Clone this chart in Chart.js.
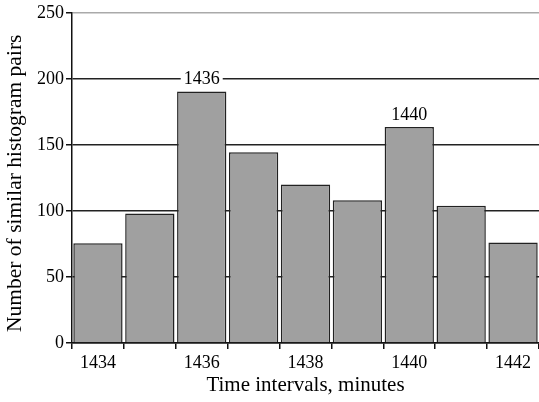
<!DOCTYPE html>
<html>
<head>
<meta charset="utf-8">
<script src="https://cdn.jsdelivr.net/npm/chart.js@4"></script>
<style>
  html, body { margin: 0; padding: 0; background: #fff; }
  #wrap { width: 539px; height: 402px; position: relative; }
</style>
</head>
<body>
<div id="wrap"><canvas id="histChart"></canvas></div>
<script>
// data
const intervals = ['1434', '1435', '1436', '1437', '1438', '1439', '1440', '1441', '1442'];
const pairCounts = [75.5, 98, 190.5, 144.5, 120, 108, 163.5, 104, 76];
const shownTicks = ['1434', '1436', '1438', '1440', '1442'];
const peakLabels = ['1436', '1440'];
const yTicks = [0, 50, 100, 150, 200, 250];

const serif = '"Liberation Serif", "DejaVu Serif", serif';

// writes the peak names above their bars, on a white patch over the grid line
const peakLabelPlugin = {
    id: 'peakLabels',
    afterDatasetsDraw(chart) {
        const ctx = chart.ctx;
        const meta = chart.getDatasetMeta(0);
        ctx.save();
        ctx.font = '18px ' + serif;
        ctx.textAlign = 'center';
        ctx.textBaseline = 'middle';
        peakLabels.forEach(lbl => {
            const i = intervals.indexOf(lbl);
            const bar = meta.data[i];
            const y = bar.y - 13;
            const w = ctx.measureText(lbl).width;
            ctx.fillStyle = '#fff';
            ctx.fillRect(bar.x - w / 2 - 3, y - 8, w + 6, 16);
            ctx.fillStyle = '#000';
            ctx.fillText(lbl, bar.x, y + 1);
        });
        ctx.restore();
    }
};

const ctx = document.getElementById('histChart').getContext('2d');
new Chart(ctx, {
    type: 'bar',
    data: {
        labels: intervals,
        datasets: [{
            data: pairCounts,
            backgroundColor: '#a0a0a0',
            borderColor: '#222',
            borderWidth: 1.5,
            barPercentage: 0.95,
            categoryPercentage: 1.0
        }]
    },
    options: {
        responsive: true,
        maintainAspectRatio: false,
        animation: false,
        layout: { padding: { top: 12, right: 0, left: 0, bottom: 0 } },
        plugins: {
            legend: { display: false },
            tooltip: { enabled: false }
        },
        scales: {
            x: {
                offset: true,
                grid: {
                    offset: true,
                    drawOnChartArea: false,
                    drawTicks: true,
                    tickLength: 6,
                    color: '#111',
                    lineWidth: 1.5
                },
                border: { display: true, color: '#111', width: 1.5 },
                ticks: {
                    autoSkip: false,
                    maxRotation: 0,
                    color: '#000',
                    padding: 3,
                    font: { family: serif, size: 18 },
                    callback: function (value) {
                        const lbl = this.getLabelForValue(value);
                        return shownTicks.includes(lbl) ? lbl : '';
                    }
                },
                title: {
                    display: true,
                    text: 'Time intervals, minutes',
                    color: '#000',
                    font: { family: serif, size: 21 },
                    padding: { top: 0 }
                },
                afterFit: scale => { scale.height = 59; }
            },
            y: {
                min: 0,
                max: 250,
                afterBuildTicks: scale => {
                    scale.ticks = yTicks.map(v => ({ value: v }));
                },
                grid: {
                    color: c => (c.tick && c.tick.value === 250 ? '#aaa' : '#222'),
                    lineWidth: 1.5,
                    tickLength: 6,
                    tickColor: '#111'
                },
                border: { display: true, color: '#111', width: 1.5 },
                ticks: {
                    color: '#000',
                    padding: 2,
                    font: { family: serif, size: 18 }
                },
                title: {
                    display: true,
                    // trailing spaces nudge the centred title down a little
                    text: 'Number of similar histogram pairs  ',
                    color: '#000',
                    font: { family: serif, size: 21.5 },
                    padding: { top: 2, bottom: 0 }
                },
                afterFit: scale => { scale.width = 72; }
            }
        }
    },
    plugins: [peakLabelPlugin]
});
</script>
</body>
</html>
